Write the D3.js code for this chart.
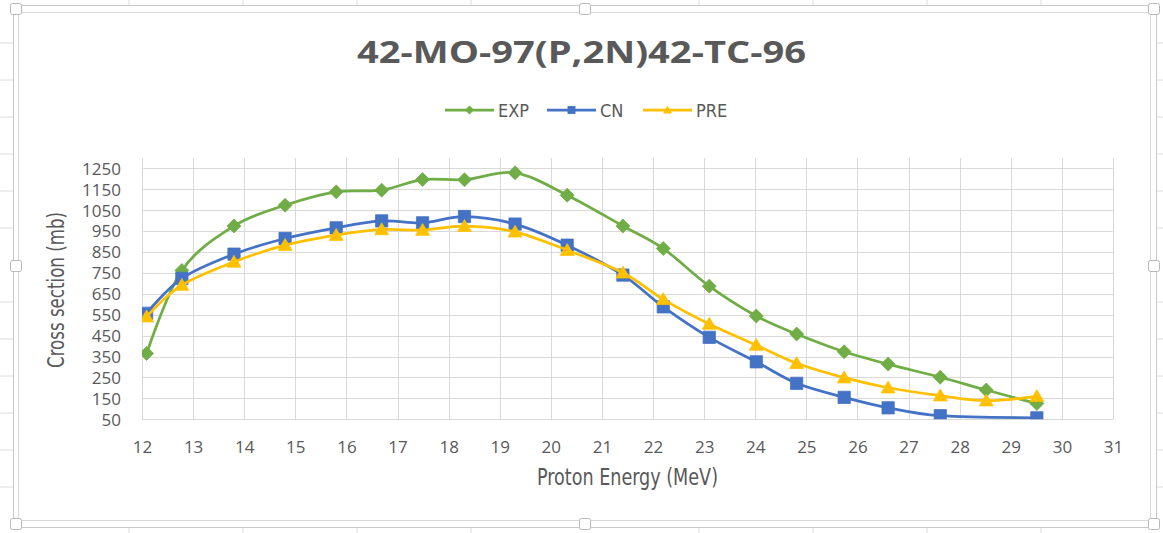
<!DOCTYPE html>
<html>
  <head>
    <script src="https://d3js.org/d3.v7.min.js"></script>
    <style>
    body { margin: 0; background: #ffffff; }
    .tick-label { font-family: "Open Sans", sans-serif; font-size: 17px; fill: #595959; }
    .axis-title { font-family: "Liberation Sans Narrow", "DejaVu Sans Condensed", sans-serif; font-size: 23.5px; fill: #595959; }
    .legend text { font-family: "Liberation Sans Narrow", "DejaVu Sans Condensed", sans-serif; font-size: 18px; fill: #595959; }
    </style>
  </head>
  <body>
    <script>

    // data
    var energy = [12.09, 12.78, 13.80, 14.80, 15.80, 16.69, 17.49, 18.31, 19.30, 20.32,
                  21.41, 22.20, 23.10, 24.02, 24.81, 25.74, 26.60, 27.62, 28.52, 29.51];
    var exp = [365, 762, 975, 1074, 1138, 1146, 1197, 1196, 1229, 1122,
               975, 867, 687, 544, 458, 373, 314, 251, 190, 125];
    var cn  = [557, 724, 840, 915, 966, 999, 990, 1020, 984, 883,
               740, 588, 442, 325, 222, 155, 105, 67, null, 57];
    var pre = [541, 692, 803, 883, 931, 958, 955, 974, 947, 859,
               751, 624, 506, 405, 318, 249, 201, 163, 139, 160];
    var seriesNames = ["EXP", "CN", "PRE"];
    var xTicks = d3.range(12, 32, 1);
    var yTicks = d3.range(50, 1251, 100);

    var w = 1163;
    var h = 533;
    var plot = { left: 142, right: 1113, top: 158, bottom: 419.3 };
    var colors = { EXP: "#70ad47", CN: "#4472c4", PRE: "#ffc000" };
    var textColor = "#595959";
    var gridColor = "#d9d9d9";
    var frameColor = "#c8c8c8";

    var svg = d3.select("body")
      .append("svg")
      .attr("width", w)
      .attr("height", h);

    // excel sheet lines peeking round the selected chart
    var colMarks = [129, 243, 357, 471, 699, 813, 927, 1041];
    var rowMarks = [43, 80, 117, 154, 191, 228, 302, 339, 376, 413, 450, 487];
    svg.append("g").selectAll("line.col")
      .data(colMarks).enter().append("line")
      .attr("x1", function(d) { return d; }).attr("x2", function(d) { return d; })
      .attr("y1", 0).attr("y2", 5)
      .attr("stroke", "#dcdcdc");
    svg.append("g").selectAll("line.colb")
      .data(colMarks).enter().append("line")
      .attr("x1", function(d) { return d; }).attr("x2", function(d) { return d; })
      .attr("y1", 528).attr("y2", h)
      .attr("stroke", "#dcdcdc");
    svg.append("g").selectAll("line.row")
      .data(rowMarks).enter().append("line")
      .attr("x1", 0).attr("x2", 13)
      .attr("y1", function(d) { return d; }).attr("y2", function(d) { return d; })
      .attr("stroke", "#dcdcdc");
    svg.append("g").selectAll("line.rowr")
      .data(rowMarks).enter().append("line")
      .attr("x1", 1157).attr("x2", w)
      .attr("y1", function(d) { return d; }).attr("y2", function(d) { return d; })
      .attr("stroke", "#dcdcdc");

    // selection frame and chart border
    svg.append("rect")
      .attr("x", 13.5).attr("y", 5.5)
      .attr("width", 1143).attr("height", 522)
      .attr("fill", "none").attr("stroke", frameColor);
    svg.append("rect")
      .attr("x", 18.5).attr("y", 12.5)
      .attr("width", 1132).attr("height", 508)
      .attr("fill", "#ffffff").attr("stroke", "#d9d9d9");

    var handles = [[16, 9], [585, 9], [1154, 9], [16, 266], [1154, 266], [16, 524], [585, 524], [1154, 524]];
    svg.append("g").selectAll("rect")
      .data(handles).enter().append("rect")
      .attr("x", function(d) { return d[0] - 5.5; })
      .attr("y", function(d) { return d[1] - 5.5; })
      .attr("width", 11).attr("height", 11)
      .attr("rx", 2)
      .attr("fill", "#ffffff")
      .attr("stroke", "#b8b8b8");

    // scales
    var xScale = d3.scaleLinear().domain([12, 31]).range([plot.left, plot.right]);
    var yScale = d3.scaleLinear().domain([50, 1300]).range([plot.bottom, plot.top]);

    // gridlines
    svg.append("g").selectAll("line")
      .data(yTicks).enter().append("line")
      .attr("x1", plot.left).attr("x2", plot.right)
      .attr("y1", function(d) { return Math.round(yScale(d)) + 0.5; })
      .attr("y2", function(d) { return Math.round(yScale(d)) + 0.5; })
      .attr("stroke", gridColor);
    svg.append("g").selectAll("line")
      .data(xTicks).enter().append("line")
      .attr("x1", function(d) { return Math.round(xScale(d)) + 0.5; })
      .attr("x2", function(d) { return Math.round(xScale(d)) + 0.5; })
      .attr("y1", plot.top).attr("y2", plot.bottom)
      .attr("stroke", gridColor);

    // axes (labels only, excel style)
    var xAxis = d3.axisBottom(xScale).tickValues(xTicks).tickSize(0).tickPadding(0)
      .tickFormat(d3.format("d"));
    var gx = svg.append("g")
      .attr("transform", "translate(0," + 441 + ")")
      .call(xAxis);
    gx.select(".domain").remove();
    gx.selectAll("text").attr("class", "tick-label").attr("dy", "0.71em").attr("y", 0)
      .attr("fill", textColor);

    var yAxis = d3.axisLeft(yScale).tickValues(yTicks).tickSize(0).tickPadding(0)
      .tickFormat(d3.format("d"));
    var gy = svg.append("g")
      .attr("transform", "translate(" + 121 + ",0)")
      .call(yAxis);
    gy.select(".domain").remove();
    gy.selectAll("text").attr("class", "tick-label").attr("fill", textColor).attr("dy", "0.34em");

    // clip for the plot area
    svg.append("clipPath")
      .attr("id", "plot-area")
      .append("rect")
      .attr("x", plot.left).attr("y", plot.top - 10)
      .attr("width", plot.right - plot.left)
      .attr("height", plot.bottom - plot.top + 10);

    var series = [
      { name: "EXP", values: exp },
      { name: "CN", values: cn },
      { name: "PRE", values: pre }
    ];

    var line = d3.line()
      .x(function(d) { return xScale(d[0]); })
      .y(function(d) { return yScale(d[1]); })
      .curve(d3.curveCatmullRom.alpha(0));

    function markerPath(name, s) {
      if (name === "EXP") {
        return "M0," + (-s) + "L" + s + ",0L0," + s + "L" + (-s) + ",0Z";
      } else if (name === "CN") {
        var q = s * 0.88;
        return "M" + (-q) + "," + (-q) + "H" + q + "V" + q + "H" + (-q) + "Z";
      }
      return "M0," + (-s * 0.95) + "L" + (s * 1.0) + "," + (s * 0.75) + "H" + (-s * 1.0) + "Z";
    }

    var gSeries = svg.append("g").attr("clip-path", "url(#plot-area)");
    series.forEach(function(sr) {
      var pts = [];
      for (var i = 0; i < energy.length; i++) {
        if (sr.values[i] !== null) pts.push([energy[i], sr.values[i]]);
      }
      gSeries.append("path")
        .datum(pts)
        .attr("d", line)
        .attr("fill", "none")
        .attr("stroke", colors[sr.name])
        .attr("stroke-width", 2.75)
        .attr("stroke-linejoin", "round");
      gSeries.selectAll("path.m-" + sr.name)
        .data(pts).enter().append("path")
        .attr("class", "m-" + sr.name)
        .attr("transform", function(d) { return "translate(" + xScale(d[0]) + "," + yScale(d[1]) + ")"; })
        .attr("d", markerPath(sr.name, 7))
        .attr("fill", colors[sr.name])
        .attr("stroke", colors[sr.name])
        .attr("stroke-width", 0.75);
    });

    // title
    svg.append("text")
      .attr("x", 581.5).attr("y", 63)
      .attr("text-anchor", "middle")
      .attr("textLength", 449)
      .attr("lengthAdjust", "spacingAndGlyphs")
      .style("font-family", "'Open Sans', sans-serif")
      .style("font-weight", "bold")
      .style("font-size", "31px")
      .style("fill", textColor)
      .text("42-MO-97(P,2N)42-TC-96");

    // legend
    var legendX = [445, 547, 643];
    var legend = svg.append("g").attr("class", "legend");
    seriesNames.forEach(function(name, i) {
      var g = legend.append("g").attr("transform", "translate(" + legendX[i] + ",110)");
      g.append("line").attr("x1", 0).attr("x2", 49).attr("y1", 0).attr("y2", 0)
        .attr("stroke", colors[name]).attr("stroke-width", 2.75);
      g.append("path").attr("transform", "translate(24.5,0)")
        .attr("d", markerPath(name, 4.5))
        .attr("fill", colors[name]);
      g.append("text").attr("x", 53).attr("y", 6.5).text(name);
    });

    // axis titles
    svg.append("text")
      .attr("class", "axis-title")
      .attr("x", 627.5).attr("y", 485)
      .attr("text-anchor", "middle")
      .attr("textLength", 181)
      .attr("lengthAdjust", "spacingAndGlyphs")
      .text("Proton Energy (MeV)");

    svg.append("text")
      .attr("class", "axis-title")
      .attr("transform", "translate(64,290) rotate(-90)")
      .attr("text-anchor", "middle")
      .attr("textLength", 156)
      .attr("lengthAdjust", "spacingAndGlyphs")
      .text("Cross section (mb)");

    </script>
  </body>
</html>
